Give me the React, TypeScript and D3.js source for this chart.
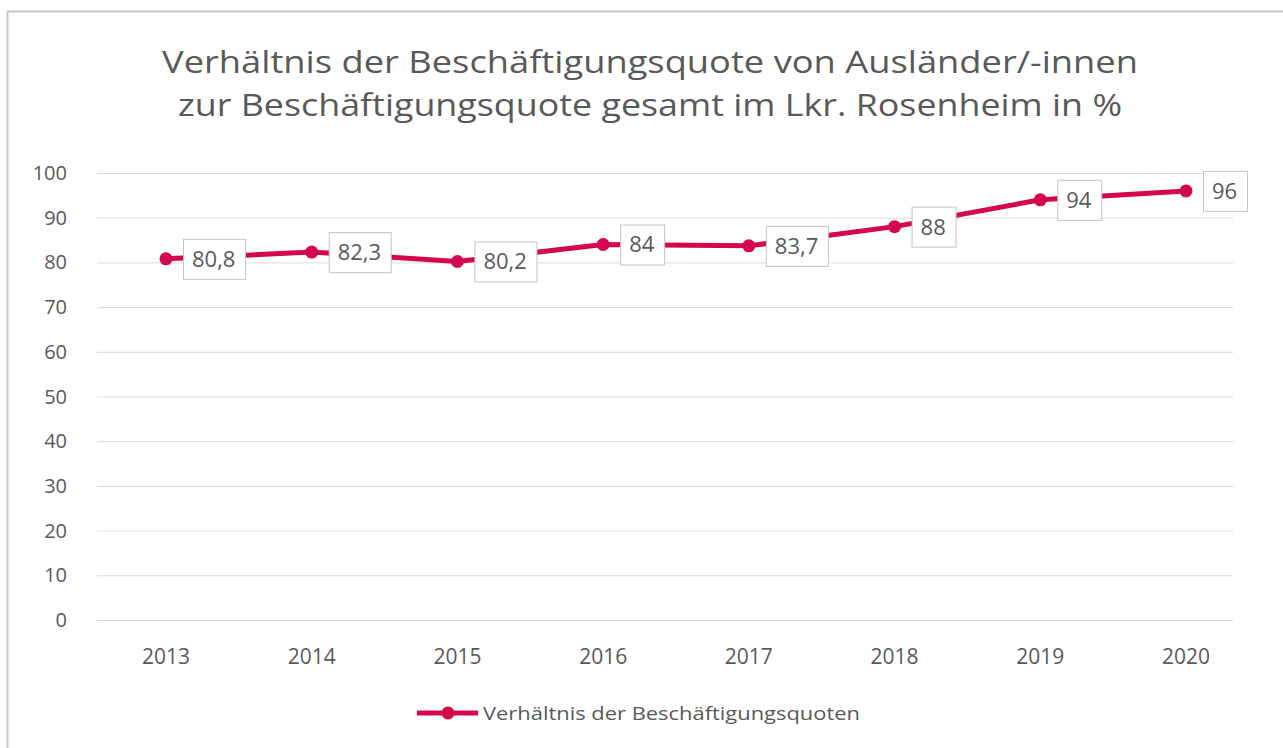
import React, { useEffect, useRef } from "react";
import * as d3 from "d3";

const years = ["2013", "2014", "2015", "2016", "2017", "2018", "2019", "2020"];
const values = [80.8, 82.3, 80.2, 84, 83.7, 88, 94, 96];
const valueLabels = ["80,8", "82,3", "80,2", "84", "83,7", "88", "94", "96"];
const yTicks = [0, 10, 20, 30, 40, 50, 60, 70, 80, 90, 100];
const titleLines = [
  "Verhältnis der Beschäftigungsquote von Ausländer/-innen",
  "zur Beschäftigungsquote gesamt im Lkr. Rosenheim in %",
];
const seriesName = "Verhältnis der Beschäftigungsquoten";

const W = 1283;
const H = 748;
const FONT = "'Open Sans', 'DejaVu Sans', sans-serif";
const LINE = "#d4064f";
const TEXT = "#595959";

export default function App() {
  const ref = useRef<SVGSVGElement | null>(null);

  useEffect(() => {
    document.body.style.margin = "0";
    const svg = d3.select(ref.current);
    svg.selectAll("*").remove();

    svg.append("rect").attr("width", W).attr("height", H).attr("fill", "#ffffff");
    // outer frame
    svg
      .append("rect")
      .attr("x", 7.5)
      .attr("y", 11.5)
      .attr("width", W + 20)
      .attr("height", H + 20)
      .attr("fill", "none")
      .attr("stroke", "#c8c8c8")
      .attr("stroke-width", 2);

    const x = d3.scalePoint<string>().domain(years).range([166, 1186]);
    const y = d3.scaleLinear().domain([0, 100]).range([620, 173]);
    const gridX0 = 97;
    const gridX1 = 1233;

    // title
    const tl = [
      { t: titleLines[0], y: 73, len: 976 },
      { t: titleLines[1], y: 116, len: 944 },
    ];
    svg
      .selectAll("text.title")
      .data(tl)
      .enter()
      .append("text")
      .attr("class", "title")
      .attr("x", 650)
      .attr("y", (d) => d.y)
      .attr("text-anchor", "middle")
      .attr("font-family", FONT)
      .attr("font-size", 31)
      .attr("fill", TEXT)
      .attr("textLength", (d) => d.len)
      .attr("lengthAdjust", "spacingAndGlyphs")
      .text((d) => d.t);

    // gridlines
    svg
      .append("g")
      .selectAll("line")
      .data(yTicks)
      .enter()
      .append("line")
      .attr("x1", gridX0)
      .attr("x2", gridX1)
      .attr("y1", (d) => y(d) + 0.5)
      .attr("y2", (d) => y(d) + 0.5)
      .attr("stroke", "#d9d9d9")
      .attr("stroke-width", 1);

    // y tick labels
    svg
      .append("g")
      .selectAll("text")
      .data(yTicks)
      .enter()
      .append("text")
      .attr("x", 67)
      .attr("y", (d) => y(d))
      .attr("dy", "0.35em")
      .attr("text-anchor", "end")
      .attr("font-family", FONT)
      .attr("font-size", 20)
      .attr("fill", TEXT)
      .text((d) => String(d));

    // x tick labels
    svg
      .append("g")
      .selectAll("text")
      .data(years)
      .enter()
      .append("text")
      .attr("x", (d) => x(d) as number)
      .attr("y", 664)
      .attr("text-anchor", "middle")
      .attr("font-family", FONT)
      .attr("font-size", 21)
      .attr("fill", TEXT)
      .text((d) => d);

    const pts = years.map((yr, i) => ({ x: x(yr) as number, y: y(values[i]), label: valueLabels[i] }));

    // line
    const line = d3
      .line<{ x: number; y: number }>()
      .x((d) => d.x)
      .y((d) => d.y);
    svg
      .append("path")
      .attr("d", line(pts) as string)
      .attr("fill", "none")
      .attr("stroke", LINE)
      .attr("stroke-width", 5)
      .attr("stroke-linejoin", "round");

    svg
      .append("g")
      .selectAll("circle")
      .data(pts)
      .enter()
      .append("circle")
      .attr("cx", (d) => d.x)
      .attr("cy", (d) => d.y)
      .attr("r", 6.5)
      .attr("fill", LINE);

    // data labels
    const lg = svg.append("g");
    pts.forEach((p) => {
      const g = lg.append("g");
      const rect = g.append("rect");
      const t = g
        .append("text")
        .attr("font-family", FONT)
        .attr("font-size", 22)
        .attr("fill", TEXT)
        .attr("x", p.x + 17 + 9)
        .attr("y", p.y)
        .attr("dy", "0.36em")
        .text(p.label);
      const w = (t.node() as SVGTextElement).getComputedTextLength();
      rect
        .attr("x", p.x + 17 + 0.5)
        .attr("y", p.y - 20 + 0.5)
        .attr("width", Math.round(w + 19))
        .attr("height", 40)
        .attr("fill", "#ffffff")
        .attr("stroke", "#c4c4c4")
        .attr("stroke-width", 1);
    });

    // legend
    const leg = svg.append("g");
    leg
      .append("line")
      .attr("x1", 417)
      .attr("x2", 478)
      .attr("y1", 713)
      .attr("y2", 713)
      .attr("stroke", LINE)
      .attr("stroke-width", 5);
    leg.append("circle").attr("cx", 448).attr("cy", 713).attr("r", 6.5).attr("fill", LINE);
    leg
      .append("text")
      .attr("x", 483)
      .attr("y", 713)
      .attr("dy", "0.35em")
      .attr("font-family", FONT)
      .attr("font-size", 19)
      .attr("fill", TEXT)
      .attr("textLength", 377)
      .attr("lengthAdjust", "spacingAndGlyphs")
      .text(seriesName);
  }, []);

  return (
    <svg
      ref={ref}
      width={W}
      height={H}
      style={{ position: "absolute", left: 0, top: 0, display: "block" }}
    />
  );
}
